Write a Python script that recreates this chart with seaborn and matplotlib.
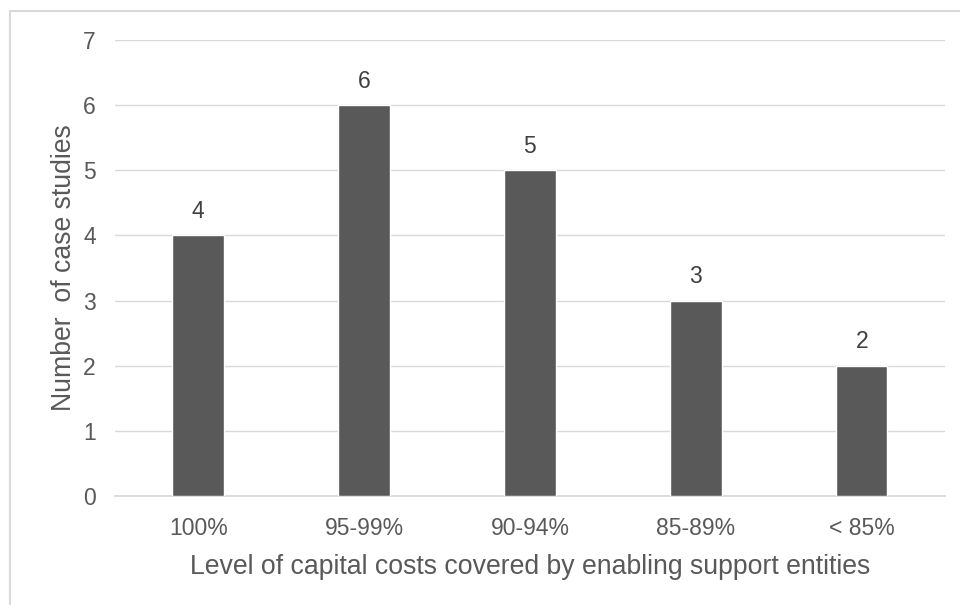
import matplotlib
matplotlib.use("Agg")
import matplotlib.pyplot as plt
import seaborn as sns
import pandas as pd
from matplotlib.patches import Rectangle

categories = ["100%", "95-99%", "90-94%", "85-89%", "< 85%"]
values = [4, 6, 5, 3, 2]
yticks = [0, 1, 2, 3, 4, 5, 6, 7]

sns.set_theme(style="white")
plt.rcParams['font.family'] = ['Liberation Sans', 'DejaVu Sans']

df = pd.DataFrame({"cat": categories, "val": values})
fig = plt.figure(figsize=(9.6, 6.05), dpi=100)
ax = fig.add_axes([0.12, 0.18, 0.864, 0.754])
sns.barplot(data=df, x="cat", y="val", color="#595959", saturation=1, width=0.31, ax=ax, zorder=3)

ax.set_ylim(0, 7)
ax.set_yticks(yticks)
ax.yaxis.grid(True, color="#d9d9d9", linewidth=1, zorder=0)
for s in ["top", "right", "left"]:
    ax.spines[s].set_visible(False)
ax.spines["bottom"].set_color("#d9d9d9")
ax.tick_params(axis="both", length=0, labelsize=16.5, colors="#595959")
ax.tick_params(axis="x", pad=15)
ax.tick_params(axis="y", pad=14)
ax.set_xlabel("Level of capital costs covered by enabling support entities", fontsize=19.2, color="#595959", labelpad=10)
ax.set_ylabel("Number  of case studies", fontsize=19.2, color="#595959", labelpad=4.5)
for c in ax.containers:
    ax.bar_label(c, labels=[str(v) for v in values], fontsize=16.5, color="#404040", padding=9)

fig.patches.append(Rectangle((10/960, -0.1), 2, 1 - 11/605 + 0.1, transform=fig.transFigure,
                             fill=False, edgecolor="#d9d9d9", linewidth=1.5))
fig.savefig("out.png", dpi=100)
